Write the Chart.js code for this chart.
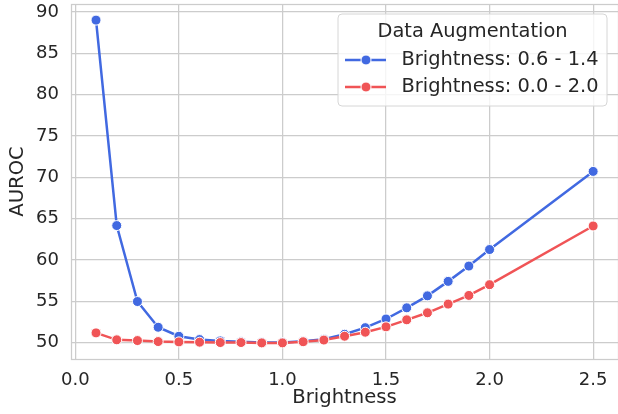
<!DOCTYPE html>
<html>
<head>
<meta charset="utf-8">
<script src="https://cdn.jsdelivr.net/npm/chart.js@4/dist/chart.umd.min.js"></script>
<style>
  html, body { margin: 0; padding: 0; background: #ffffff; }
  #wrap { width: 618px; height: 414px; position: relative; }
</style>
</head>
<body>
<div id="wrap"><canvas id="c" width="618" height="414"></canvas></div>
<script>
// ---- data ----
const brightness = [0.1, 0.2, 0.3, 0.4, 0.5, 0.6, 0.7, 0.8, 0.9, 1.0, 1.1, 1.2, 1.3, 1.4, 1.5, 1.6, 1.7, 1.8, 1.9, 2.0, 2.5];
const aurocNarrow = [89.0, 64.15, 54.96, 51.85, 50.76, 50.36, 50.2, 50.1, 50.0, 50.0, 50.15, 50.4, 51.0, 51.8, 52.85, 54.2, 55.65, 57.4, 59.25, 61.25, 70.7];
const aurocWide = [51.17, 50.33, 50.24, 50.12, 50.08, 50.04, 50.0, 50.0, 49.96, 49.96, 50.1, 50.3, 50.76, 51.25, 51.9, 52.75, 53.6, 54.65, 55.7, 57.0, 64.1];
const seriesNames = ["Brightness: 0.6 - 1.4", "Brightness: 0.0 - 2.0"];
const legendTitle = "Data Augmentation";
const xTicks = [0.0, 0.5, 1.0, 1.5, 2.0, 2.5];
const yTicks = [50, 55, 60, 65, 70, 75, 80, 85, 90];
const xTitle = "Brightness";
const yTitle = "AUROC";

const BLUE = "#4169e1";
const RED = "#f05456";
const GRID = "#cccccc";
const TEXT = "#262626";
const FONT = "'DejaVu Sans', sans-serif";

const toPts = (xs, ys) => xs.map((x, i) => ({ x: x, y: ys[i] }));

const zeroPad = (s) => { s.paddingTop = 0; s.paddingBottom = 0; s.paddingLeft = 0; s.paddingRight = 0; };

const framePlugin = {
  id: 'frame',
  beforeDatasetsDraw(chart) {
    const a = chart.chartArea, ctx = chart.ctx;
    ctx.save();
    ctx.strokeStyle = GRID;
    ctx.lineWidth = 1.25;
    ctx.strokeRect(a.left + 0.5, a.top + 0.5, a.right - a.left, a.bottom - a.top);
    ctx.restore();
  }
};

const legendPlugin = {
  id: 'boxLegend',
  afterDraw(chart) {
    const ctx = chart.ctx;
    const L = 338, R = 607, T = 14, B = 106, rad = 4;
    ctx.save();
    ctx.beginPath();
    ctx.moveTo(L + rad, T);
    ctx.lineTo(R - rad, T); ctx.quadraticCurveTo(R, T, R, T + rad);
    ctx.lineTo(R, B - rad); ctx.quadraticCurveTo(R, B, R - rad, B);
    ctx.lineTo(L + rad, B); ctx.quadraticCurveTo(L, B, L, B - rad);
    ctx.lineTo(L, T + rad); ctx.quadraticCurveTo(L, T, L + rad, T);
    ctx.closePath();
    ctx.fillStyle = "rgba(255,255,255,0.8)";
    ctx.fill();
    ctx.strokeStyle = "#d6d6d6";
    ctx.lineWidth = 1;
    ctx.stroke();

    ctx.fillStyle = TEXT;
    ctx.font = "19.4px " + FONT;
    ctx.textAlign = "center";
    ctx.textBaseline = "middle";
    ctx.fillText(legendTitle, (L + R) / 2, 32);

    const ds = chart.data.datasets;
    const rows = [60, 87];
    ds.forEach((d, i) => {
      const y = rows[i];
      ctx.strokeStyle = d.borderColor;
      ctx.lineWidth = 2.5;
      ctx.beginPath();
      ctx.moveTo(345, y); ctx.lineTo(386, y);
      ctx.stroke();
      ctx.beginPath();
      ctx.arc(366, y, 5, 0, Math.PI * 2);
      ctx.fillStyle = d.backgroundColor;
      ctx.fill();
      ctx.strokeStyle = "#ffffff";
      ctx.lineWidth = 1;
      ctx.stroke();
      ctx.fillStyle = TEXT;
      ctx.textAlign = "left";
      ctx.fillText(d.label, 401.5, y);
    });
    ctx.restore();
  }
};

new Chart(document.getElementById('c'), {
  type: 'line',
  data: {
    datasets: [
      {
        label: seriesNames[0],
        data: toPts(brightness, aurocNarrow),
        borderColor: BLUE, backgroundColor: BLUE,
        borderWidth: 2.5, pointRadius: 5, pointBorderColor: "#ffffff",
        pointBorderWidth: 1, pointBackgroundColor: BLUE, tension: 0, order: 1
      },
      {
        label: seriesNames[1],
        data: toPts(brightness, aurocWide),
        borderColor: RED, backgroundColor: RED,
        borderWidth: 2.5, pointRadius: 5, pointBorderColor: "#ffffff",
        pointBorderWidth: 1, pointBackgroundColor: RED, tension: 0, order: 0
      }
    ]
  },
  options: {
    responsive: false,
    animation: false,
    devicePixelRatio: 1,
    layout: { autoPadding: false, padding: { top: 4, right: 0, left: 0, bottom: 0 } },
    plugins: { legend: { display: false }, tooltip: { enabled: false } },
    scales: {
      x: {
        type: 'linear',
        min: -0.0208, max: 2.62,
        afterBuildTicks: (s) => { s.ticks = xTicks.map(v => ({ value: v })); },
        afterFit: (s) => { s.height = 55; zeroPad(s); },
        grid: { color: GRID, lineWidth: 1.25, drawTicks: false },
        border: { display: false },
        ticks: {
          color: TEXT, font: { family: FONT, size: 18 }, padding: 11,
          maxRotation: 0, autoSkip: false,
          callback: (v) => Number(v).toFixed(1)
        },
        title: {
          display: true, text: xTitle, color: TEXT,
          font: { family: FONT, size: 19.6, lineHeight: 1 },
          padding: { top: 0, bottom: 6 }
        }
      },
      y: {
        type: 'linear',
        min: 48.01, max: 90.95,
        afterBuildTicks: (s) => { s.ticks = yTicks.map(v => ({ value: v })); },
        afterFit: (s) => { s.width = 71; zeroPad(s); },
        grid: { color: GRID, lineWidth: 1.25, drawTicks: false },
        border: { display: false },
        ticks: {
          color: TEXT, font: { family: FONT, size: 18 }, padding: 12,
          autoSkip: false,
          callback: (v) => String(v)
        },
        title: {
          display: true, text: yTitle, color: TEXT,
          font: { family: FONT, size: 19.6, lineHeight: 1 },
          padding: { top: 8, bottom: 0 }
        }
      }
    }
  },
  plugins: [framePlugin, legendPlugin]
});
</script>
</body>
</html>
